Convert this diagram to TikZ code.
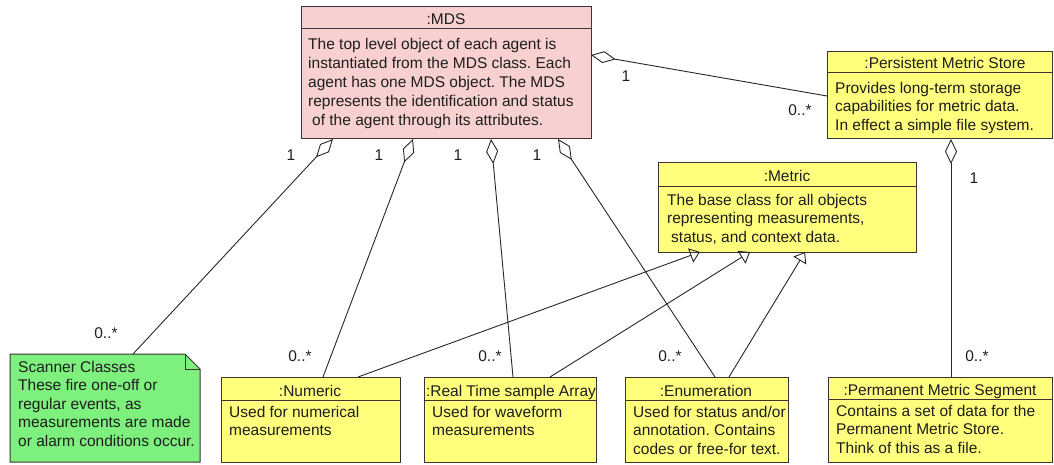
\documentclass[tikz,border=0pt]{standalone}
\usepackage{fontspec}
\setmainfont{Liberation Sans}
\usetikzlibrary{arrows.meta,calc}
\definecolor{pinkfill}{RGB}{248,208,208}
\definecolor{yel}{RGB}{255,255,125}
\definecolor{grn}{RGB}{125,240,125}
\definecolor{bord}{RGB}{60,52,52}
\definecolor{txt}{RGB}{30,30,30}
\begin{document}
\frenchspacing
\begin{tikzpicture}[x=1pt,y=-1pt,
  box/.style={draw=bord, line width=1pt, anchor=north west, inner sep=0pt, outer sep=0pt},
  sepline/.style={draw=bord, line width=1pt},
  hdr/.style={anchor=base, inner sep=0pt, text=txt, font=\fontsize{15.5}{18.5}\selectfont},
  body/.style={anchor=north west, inner sep=0pt, align=left, text=txt, font=\fontsize{15.5}{18.5}\selectfont},
  mult/.style={inner sep=0pt, text=txt, font=\fontsize{15.5}{18.5}\selectfont},
  conn/.style={draw=black!85, line width=0.9pt},
  agg/.style={conn, {Diamond[open,length=25pt,width=12pt]}-},
  gen/.style={conn, -{Triangle[open,length=10pt,width=15pt]}},
]
\useasboundingbox (0,0) rectangle (1054,465);
\clip (0,0) rectangle (1054,465);

% ---- boxes ----
\node[box, fill=pinkfill, minimum width=290pt, minimum height=132pt] (mds) at (301,7) {};
\draw[sepline] ([yshift=-22pt]mds.north west) -- ([yshift=-22pt]mds.north east);
\node[hdr] (mdsH) at (446,25) {:MDS};
\node[body, font=\fontsize{15.5}{19}\selectfont] (mdsB) at (308,36) {\strut The top level object of each agent is\\instantiated from the MDS class. Each\\agent has one MDS object. The MDS\\represents the identification and status\\\hspace{4pt}of the agent through its attributes.};

\node[box, fill=yel, minimum width=225pt, minimum height=87pt] (pms) at (827,52) {};
\draw[sepline] ([yshift=-21pt]pms.north west) -- ([yshift=-21pt]pms.north east);
\node[hdr] (pmsH) at (945,69) {:Persistent Metric Store};
\node[body] (pmsB) at (835,80) {\strut Provides long-term storage\\capabilities for metric data.\\In effect a simple file system.};

\node[box, fill=yel, minimum width=258pt, minimum height=89pt] (met) at (658,163) {};
\draw[sepline] ([yshift=-24pt]met.north west) -- ([yshift=-24pt]met.north east);
\node[hdr] (metH) at (787,182) {:Metric};
\node[body] (metB) at (667,192) {\strut The base class for all objects\\representing measurements,\\\hspace{4pt}status, and context data.};

\node[anchor=north west, inner sep=0pt, outer sep=0pt, minimum width=190pt, minimum height=108pt] (note) at (10,354) {};
\filldraw[fill=grn, draw=bord, line width=1pt] (note.north west) -- ([xshift=-15pt]note.north east) -- ([yshift=-15pt]note.north east) -- (note.south east) -- (note.south west) -- cycle;
\draw[sepline] ([xshift=-15pt]note.north east) -- ([xshift=-15pt,yshift=-15pt]note.north east) -- ([yshift=-15pt]note.north east);
\node[body] (noteB) at (18,359) {\strut Scanner Classes\\These fire one-off or\\regular events, as\\measurements are made\\or alarm conditions occur.};

\node[box, fill=yel, minimum width=179pt, minimum height=85pt] (num) at (221,377) {};
\draw[sepline] ([yshift=-23pt]num.north west) -- ([yshift=-23pt]num.north east);
\node[hdr] (numH) at (310,396) {:Numeric};
\node[body] (numB) at (229,404) {\strut Used for numerical\\measurements};

\node[box, fill=yel, minimum width=172pt, minimum height=85pt] (rt) at (424,377) {};
\draw[sepline] ([yshift=-23pt]rt.north west) -- ([yshift=-23pt]rt.north east);
\node[hdr] (rtH) at (511,396) {:Real Time sample Array};
\node[body] (rtB) at (432,404) {\strut Used for waveform\\measurements};

\node[box, fill=yel, minimum width=163pt, minimum height=85pt] (enum) at (625,377) {};
\draw[sepline] ([yshift=-23pt]enum.north west) -- ([yshift=-23pt]enum.north east);
\node[hdr] (enumH) at (706,396) {:Enumeration};
\node[body] (enumB) at (633,404) {\strut Used for status and/or\\annotation. Contains\\codes or free-for text.};

\node[box, fill=yel, minimum width=224pt, minimum height=85pt] (perm) at (828,377) {};
\draw[sepline] ([yshift=-22pt]perm.north west) -- ([yshift=-22pt]perm.north east);
\node[hdr] (permH) at (940,395) {:Permanent Metric Segment};
\node[body] (permB) at (836,403) {\strut Contains a set of data for the\\Permanent Metric Store.\\Think of this as a file.};

% ---- aggregations ----
\draw[agg] ([xshift=32pt]mds.south west) -- ([xshift=123pt]note.north west);
\draw[agg] ([xshift=112pt]mds.south west) -- ([xshift=102pt]num.north west);
\draw[agg] ([xshift=190pt]mds.south west) -- ([xshift=89pt]rt.north west);
\draw[agg] ([xshift=257pt]mds.south west) -- ([xshift=90pt]enum.north west);
\draw[agg] ([yshift=-48pt]mds.north east) -- ([yshift=-44pt]pms.north west);
\draw[agg] ([xshift=124pt]pms.south west) -- ([xshift=123pt]perm.north west);

% ---- generalizations ----
\draw[gen] ([xshift=137pt]num.north west) -- ([xshift=42pt]met.south west);
\draw[gen] ([xshift=126pt]rt.north west) -- ([xshift=92pt]met.south west);
\draw[gen] ([xshift=104pt]enum.north west) -- ([xshift=147pt]met.south west);

% ---- multiplicities ----
\node[mult] (m1) at (626,76) {1};
\node[mult] (m2) at (800,110) {0..*};
\node[mult] (m3) at (291,155) {1};
\node[mult] (m4) at (379,155) {1};
\node[mult] (m5) at (458,155) {1};
\node[mult] (m6) at (537,155) {1};
\node[mult] (m7) at (106,333) {0..*};
\node[mult] (m8) at (300,356) {0..*};
\node[mult] (m9) at (490,356) {0..*};
\node[mult] (m10) at (670,356) {0..*};
\node[mult] (m11) at (974,178) {1};
\node[mult] (m12) at (977,356) {0..*};
\end{tikzpicture}
\end{document}
